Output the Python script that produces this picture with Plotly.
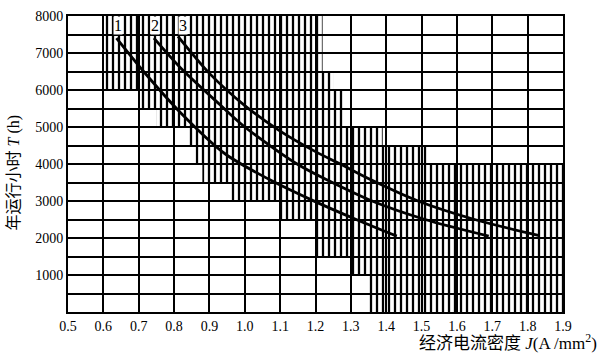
import plotly.graph_objects as go

# ---- data ----
band_lo = [0, 500, 1000, 1500, 2000, 2500, 3000, 3500,
           4000, 4500, 5000, 5500, 6000, 6500, 7000, 7500]
hatch_start = [1.35, 1.35, 1.30, 1.20, 1.20, 1.10, 0.96, 0.88,
               0.86, 0.84, 0.75, 0.70, 0.60, 0.60, 0.60, 0.60]
hatch_end = [1.90, 1.90, 1.90, 1.90, 1.90, 1.90, 1.90, 1.90,
             1.52, 1.39, 1.28, 1.28, 1.25, 1.22, 1.22, 1.22]

c1_J = [0.637, 0.712, 0.817, 0.944, 1.071, 1.193, 1.32, 1.43]
c1_T = [7400, 6520, 5400, 4277, 3573, 3010, 2480, 2050]
c2_J = [0.743, 0.82, 0.93, 1.00, 1.148, 1.232, 1.36, 1.51, 1.69]
c2_T = [7400, 6580, 5600, 5000, 4000, 3573, 3000, 2500, 2050]
c3_J = [0.811, 0.90, 1.00, 1.10, 1.20, 1.27, 1.36, 1.49, 1.65, 1.83]
c3_T = [7450, 6450, 5580, 4890, 4335, 4000, 3560, 3000, 2500, 2070]

curve_labels = ["1", "2", "3"]
label_J = [0.642, 0.745, 0.826]
label_T = 7740

x_ticks = [0.5, 0.6, 0.7, 0.8, 0.9, 1.0, 1.1, 1.2, 1.3, 1.4, 1.5, 1.6, 1.7, 1.8, 1.9]
y_ticks = [1000, 2000, 3000, 4000, 5000, 6000, 7000, 8000]

SERIF = "Liberation Serif, Noto Sans CJK SC"

fig = go.Figure()

# hatched region (vertical line pattern)
fig.add_trace(go.Bar(
    orientation="h",
    y=[b + 250 for b in band_lo],
    x=[e - s for s, e in zip(hatch_start, hatch_end)],
    base=hatch_start,
    width=500,
    marker=dict(color="rgba(0,0,0,0)", line=dict(width=0),
                pattern=dict(shape="|", fgcolor="black", bgcolor="rgba(0,0,0,0)",
                             size=6, solidity=0.38, fillmode="replace")),
    hoverinfo="skip", showlegend=False,
))

for J, T in [(c1_J, c1_T), (c2_J, c2_T), (c3_J, c3_T)]:
    fig.add_trace(go.Scatter(x=J, y=T, mode="lines",
                             line=dict(color="black", width=2.8, shape="spline", smoothing=0.8),
                             hoverinfo="skip", showlegend=False))

for lab, xj in zip(curve_labels, label_J):
    fig.add_annotation(x=xj, y=label_T, text=lab, showarrow=False,
                       font=dict(family=SERIF, size=16, color="black"),
                       bgcolor="white", borderpad=0)

fig.add_annotation(xref="paper", yref="paper", x=1.072, y=-0.103,
                   xanchor="right", yanchor="middle", showarrow=False,
                   text="经济电流密度 <i>J</i>(A /mm<sup>2</sup>)",
                   font=dict(family=SERIF, size=17, color="black"))
fig.add_annotation(xref="paper", yref="paper", x=-0.11, y=0.47,
                   xanchor="center", yanchor="middle", showarrow=False,
                   textangle=-90,
                   text="年运行小时 <i>T</i> (h)",
                   font=dict(family=SERIF, size=16, color="black"))

axis_common = dict(showline=True, linecolor="black", linewidth=2, mirror=True,
                   showgrid=True, gridcolor="black", gridwidth=2, zeroline=False,
                   ticks="", tickfont=dict(family=SERIF, size=14, color="black"))

fig.update_layout(
    width=600, height=358,
    margin=dict(l=68, r=37, t=9, b=46),
    paper_bgcolor="white", plot_bgcolor="white",
    xaxis=dict(range=[0.5, 1.9], tickvals=x_ticks,
               ticktext=[f"{v:.1f}" for v in x_ticks], **axis_common),
    yaxis=dict(range=[0, 8000], tickvals=y_ticks,
               minor=dict(tick0=0, dtick=500, showgrid=True, gridcolor="black", gridwidth=2),
               **axis_common),
    barmode="overlay",
)

fig.write_html("out.html")
